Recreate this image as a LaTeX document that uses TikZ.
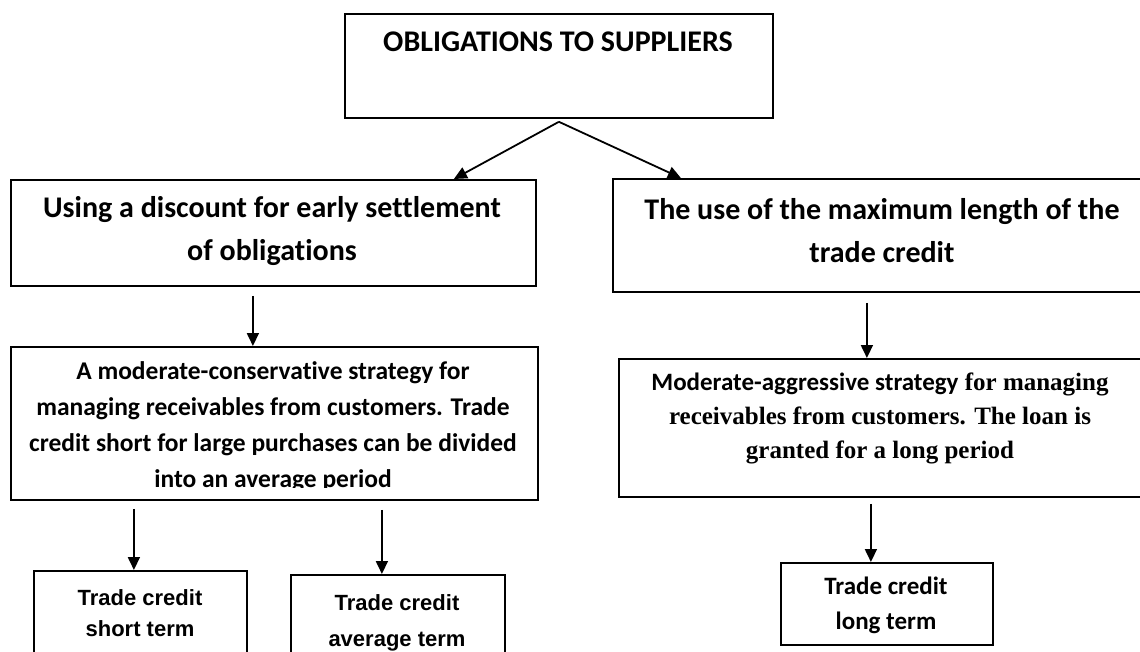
\documentclass[tikz,border=0pt]{standalone}
\usepackage{fontspec}
\setmainfont{Carlito}[Ligatures=CommonOff]
\newfontfamily\arialf{Liberation Sans}
\newfontfamily\timesf{Liberation Serif}
\usetikzlibrary{arrows.meta}
\begin{document}
\begin{tikzpicture}[x=1pt,y=-1pt,
  box/.style={draw=black, line width=1.8pt, rectangle, inner sep=0pt, anchor=north west},
  lbl/.style={align=center, inner sep=0pt},
  arr/.style={line width=1.8pt, -{Triangle[length=13pt,width=12pt]}}]
\clip (0,0) rectangle (1140,652);
\fill[white] (0,0) rectangle (1140,652);
% boxes
\node[box, minimum width=428pt, minimum height=104pt] (top) at (344,13) {};
\node[box, minimum width=525pt, minimum height=106pt] (A) at (10,179) {};
\node[box, minimum width=540pt, minimum height=113pt] (B) at (612,178) {};
\node[box, minimum width=527pt, minimum height=153pt] (C) at (10,346) {};
\node[box, minimum width=540pt, minimum height=138pt] (F) at (618,358) {};
\node[box, minimum width=213pt, minimum height=100pt] (D) at (33,570) {};
\node[box, minimum width=214pt, minimum height=100pt] (E) at (290,574) {};
\node[box, minimum width=212pt, minimum height=82pt] (G) at (780,562) {};
% texts
\node[lbl, font=\bfseries\fontsize{30}{36}\selectfont] (topT) at (558,42) {OBLIGATIONS TO SUPPLIERS};
\node[lbl, font=\bfseries\fontsize{30}{43}\selectfont] (AT) at (272,231) {Using a discount for early settlement\\of obligations};
\node[lbl, font=\bfseries\fontsize{30}{43}\selectfont] (BT) at (882,231) {The use of the maximum length of the\\trade credit};
\begin{scope}
\clip (C.north west) rectangle ([yshift=13pt]C.south east);
\node[lbl, font=\bfseries\fontsize{25.5}{36}\selectfont] (CT) at (273,427) {A moderate-conservative strategy for\\managing receivables from customers. Trade\\credit short for large purchases can be divided\\into an average period};
\end{scope}
\node[lbl, font=\timesf\bfseries\fontsize{25}{34}\selectfont] (FT) at (880,418) {{\rmfamily Moderate-aggressive strategy} for managing\\receivables from customers. The loan is\\granted for a long period};
\node[lbl, font=\arialf\bfseries\fontsize{22}{31}\selectfont] (DT) at (140,613) {Trade credit\\short term};
\node[lbl, font=\arialf\bfseries\fontsize{22}{36}\selectfont] (ET) at (397,623) {Trade credit\\average term};
\node[lbl, font=\bfseries\fontsize{25}{35}\selectfont] (GT) at (886,605) {Trade credit\\long term};
% connectors
\draw[arr] ([yshift=-3pt]top.south) -- ([xshift=180.5pt]A.north);
\draw[arr] ([yshift=-3pt]top.south) -- ([xshift=-202pt]B.north);
\draw[arr] ([xshift=-20.5pt,yshift=-9pt]A.south) -- ([xshift=-20.5pt]A.south |- C.north);
\draw[arr] ([xshift=-16pt,yshift=-10pt]B.south) -- ([xshift=-16pt]B.south |- F.north);
\draw[arr] ([xshift=-140.5pt,yshift=-8pt]C.south) -- ([xshift=-140.5pt]C.south |- D.north);
\draw[arr] ([xshift=107.5pt,yshift=-9pt]C.south) -- ([xshift=107.5pt]C.south |- E.north);
\draw[arr] ([xshift=-18pt,yshift=-6pt]F.south) -- ([xshift=-18pt]F.south |- G.north);
\end{tikzpicture}
\end{document}
